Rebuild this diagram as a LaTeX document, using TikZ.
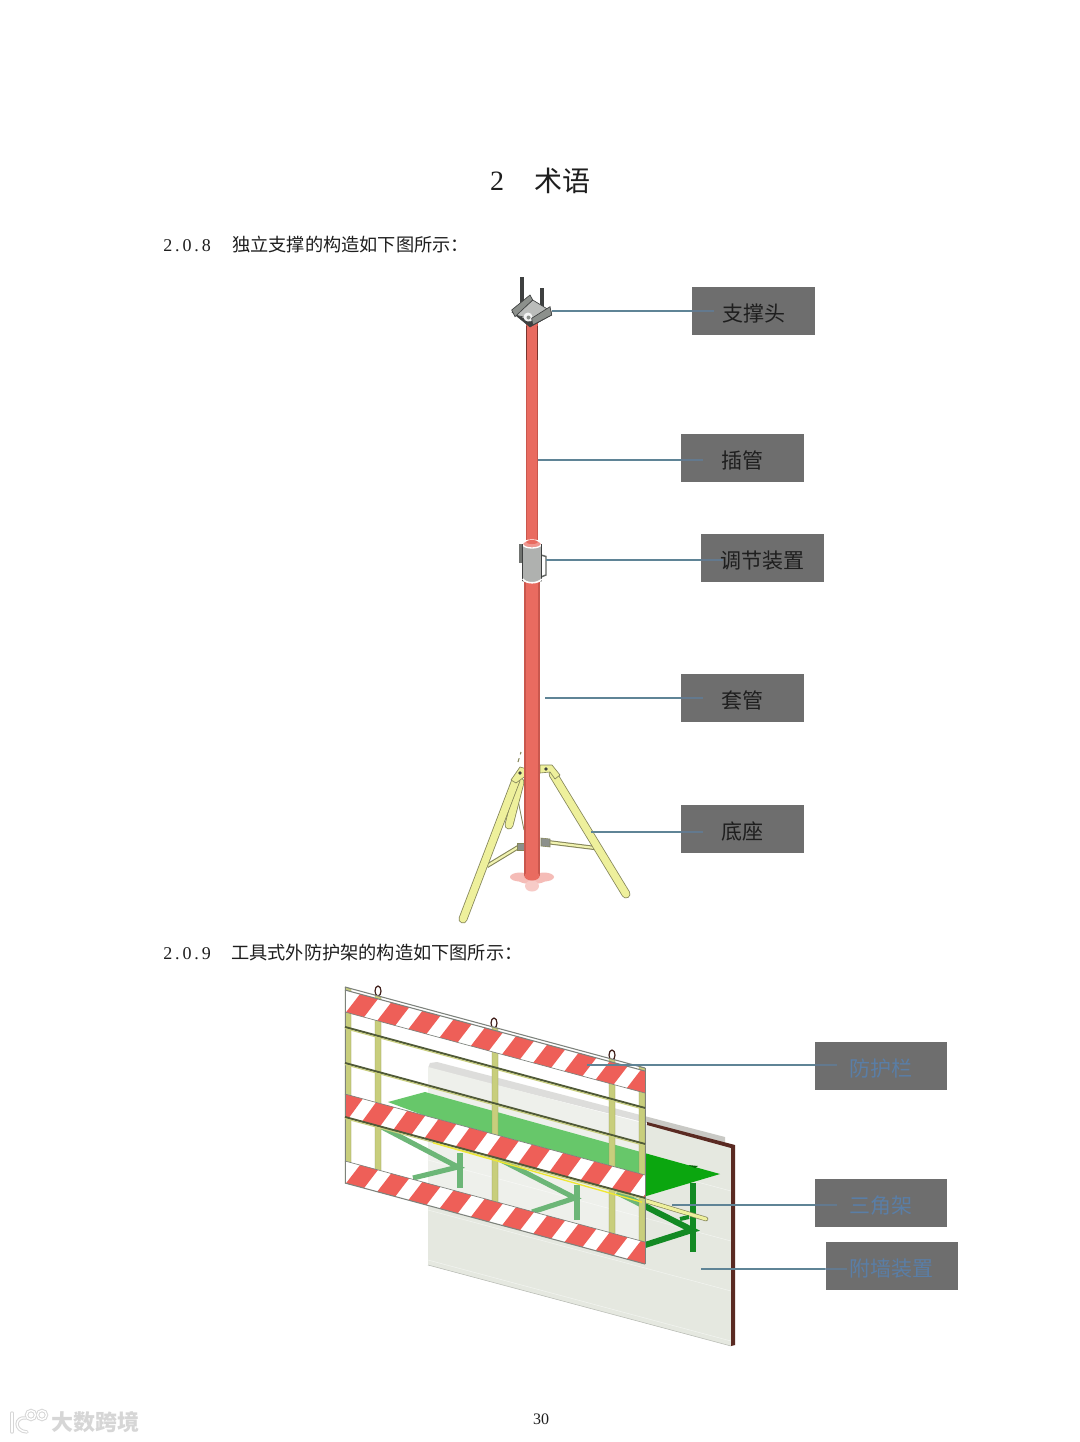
\documentclass[tikz,border=0pt]{standalone}
\usepackage{fontspec}
\setmainfont{Liberation Serif}
\newfontfamily\cjk{Noto Sans CJK SC}
\newfontfamily\numfont[LetterSpace=16]{Liberation Serif}
\definecolor{boxgray}{HTML}{6E6E6E}
\definecolor{leadc}{HTML}{5F8496}
\definecolor{leadin}{HTML}{5F7F9C}
\definecolor{bluetext}{HTML}{5A7EA6}
\definecolor{darktext}{HTML}{1E1E1E}
\definecolor{tubemid}{HTML}{E96B60}
\definecolor{tubedark}{HTML}{C9574D}
\definecolor{legyellow}{HTML}{EEF09C}
\definecolor{legedge}{HTML}{85865A}
\definecolor{steel}{HTML}{8C908C}
\definecolor{steeld}{HTML}{3E4040}
\definecolor{wallc}{HTML}{E5E8E0}
\definecolor{capc}{HTML}{C9C9C5}
\definecolor{brownc}{HTML}{5A2A22}
\definecolor{greenc}{HTML}{0BA60F}
\definecolor{greend}{HTML}{138A24}
\definecolor{stripered}{HTML}{EE5F58}
\definecolor{postc}{HTML}{C8CE7C}
\definecolor{railc}{HTML}{505A38}
\definecolor{edgec}{HTML}{7D827C}
\definecolor{wmc}{HTML}{D6D6D6}
\tikzset{
  labbox/.style={rectangle,fill=boxgray,inner sep=0pt,minimum width=92.25pt,minimum height=36pt,
    font=\cjk\fontsize{15.75}{16}\selectfont,text=darktext,text height=16pt,text depth=0pt},
  bluebox/.style={labbox,minimum width=99pt,text=bluetext},
  leadl/.style={draw=leadc,line width=0.8pt},
  leadi/.style={draw=leadin,line width=1pt,opacity=.7},
  heading/.style={font=\cjk\fontsize{13.65}{14}\selectfont,anchor=west,text=darktext,inner sep=0pt},
  number/.style={font=\numfont\fontsize{13.5}{14}\selectfont,anchor=west,text=darktext,inner sep=0pt},
  legout/.style={draw=legedge,line width=6.6pt,line cap=round},
  legin/.style={draw=legyellow,line width=5.4pt,line cap=round},
  strutout/.style={draw=legedge,line width=3.2pt},
  strutin/.style={draw=legyellow!80!white,line width=1.6pt},
  grbar/.style={draw=greend,line width=4.5pt},
  grthin/.style={draw=greend,line width=3.8pt},
  rail/.style={draw=railc,line width=1.5pt},
  railb/.style={draw=postc,line width=0.8pt},
  thin edge/.style={draw=edgec,line width=0.5pt},
  post/.style={fill=postc,draw=postc!70!black,line width=0.25pt},
  ringc/.style={draw=brownc!70!black,line width=0.9pt},
}
\begin{document}
\begin{tikzpicture}[x=0.75pt,y=-0.75pt]
\useasboundingbox (0,0) rectangle (1080,1442);
\fill[white] (0,0) rectangle (1080,1442);

% --- texts
\node[font=\fontsize{21}{22}\selectfont,text=darktext,inner sep=0pt] (t0) at (497,181) {2};
\node[font=\cjk\fontsize{21}{22}\selectfont,text=darktext,inner sep=0pt] (t1) at (562,181) {术语};
\node[number] (h1n) at (163,245.5) {2.0.8};
\node[heading] (h1) at (232,245) {独立支撑的构造如下图所示：};
\node[number] (h2n) at (163,953.5) {2.0.9};
\node[heading] (h2) at (231,953) {工具式外防护架的构造如下图所示：};
\node[font=\fontsize{12}{13}\selectfont,text=darktext,inner sep=0pt] (pg) at (541,1419) {30};

% --- tripod
\coordinate (rl1) at (553,774); \coordinate (rl2) at (626,894);
\coordinate (ll1) at (516,780); \coordinate (ll2) at (463,919);
\draw[strutout] (520,846) -- (487,866);
\draw[strutin]  (520,846) -- (487,866);
\draw[strutout] (547,842) -- (595,848);
\draw[strutin]  (547,842) -- (595,848);
\draw[legedge,line width=0.6pt] (516,790) -- (524,830);
\draw[legedge,line width=0.8pt,dashed] (518,762) -- (521,752);
\draw[legout] (rl1) -- (rl2); \draw[legin] (rl1) -- (rl2);
\draw[legout] (520,782) -- (509,825); \draw[legin] (520,782) -- (509,825);
\draw[legout] (ll1) -- (ll2); \draw[legin] (ll1) -- (ll2);
% hinges
\draw[legedge,fill=legyellow,line width=0.5pt] (540,765) -- (552,765) -- (560,775) -- (555,779) -- (550,772) -- (540,773) -- cycle;
\draw[legedge,fill=legyellow,line width=0.5pt] (527,769) -- (520,767) -- (511,780) -- (516,783) -- (527,775) -- cycle;
\fill[steeld] (546,769) circle (1.8);
\fill[steeld] (520,773) circle (1.8);
\draw[legedge,fill=steel,line width=0.4pt] (541,838) -- (550,839) -- (550,847) -- (541,846) -- cycle;
\draw[legedge,fill=steel,line width=0.4pt] (517,843) -- (525,843) -- (525,850) -- (517,850) -- cycle;
% base flange
\fill[tubemid!45!white] (532,879) ellipse (15 and 5);
\fill[tubemid!45!white] (520,877) ellipse (10 and 4.5);
\fill[tubemid!45!white] (544,877) ellipse (10 and 4.5);
\fill[tubemid!35!white] (532,886) ellipse (7 and 5.5);

% --- pole
\fill[tubemid] (526,322) rectangle (538.3,545);
\fill[tubedark] (526,322) rectangle (527.3,545);
\fill[tubedark] (537,322) rectangle (538.3,545);
\fill[tubemid] (524.3,580) rectangle (539.5,876);
\fill[tubedark] (524.3,580) rectangle (525.6,876);
\fill[tubedark] (538.2,580) rectangle (539.5,876);
\fill[tubemid] (532,876) ellipse (7.6 and 4.5);
\draw[tubedark!60!black,line width=0.5pt] (526.5,326) -- (526.5,360);
\draw[tubedark!60!black,line width=0.5pt] (537.8,326) -- (537.8,360);
% adjuster
\fill[steel!80!black] (519,544) rectangle (522.5,563);
\draw[steel!70!black,line width=1.1pt] (541,555) -- (546,556.5) -- (546,575) -- (541,577);
\fill[left color=steel!70!white,middle color=wallc,right color=steel!70!white] (522.7,544) rectangle (541.7,581);
\draw[white,fill=tubemid!70!white,line width=1pt] (532,544) ellipse (9.5 and 4);
\fill[tubemid] (532,542) ellipse (6 and 2);
\draw[steeld,line width=0.4pt] (522.7,544) -- (522.7,581);
\draw[steeld,line width=0.4pt] (541.7,544) -- (541.7,581);
\draw[white,line width=1.2pt] (522.7,579) .. controls (526,584) and (538,584) .. (541.7,579);

% --- support head
\draw[steeld,line width=2.8pt] (521.7,277) -- (521.7,304);
\draw[steeld,line width=2.8pt] (541.7,288) -- (541.7,310);
\draw[steeld,fill=steeld,line width=0.4pt] (511.7,312) -- (530,327) -- (551.7,315) -- (551,311) -- (530,322) -- cycle;
\draw[steeld,fill=steel!60!white,line width=0.5pt] (515,315) -- (532.7,300) -- (549,310) -- (531.7,319) -- cycle;
\draw[steeld,fill=steel,line width=0.5pt] (511.7,310) -- (530,295) -- (532.7,300) -- (515,316.7) -- cycle;
\fill[white!90!steel] (528,317) circle (4.5);
\fill[steel] (528.5,317.5) circle (2);
\draw[steeld,fill=steel,line width=0.5pt] (531.7,318.3) -- (550,306.7) -- (551.7,315) -- (532.7,325) -- cycle;

% --- wall
\fill[capc] (430,1063) -- (437,1062) -- (725,1137) -- (725,1143) -- (647,1123) -- (428,1068) -- cycle;
\fill[wallc] (428,1067) -- (731,1146) -- (731,1346) -- (428,1265) -- cycle;
\draw[wallc!80!black,line width=0.4pt] (428,1265) -- (731,1346);
\fill[brownc] (647,1122) -- (735,1145) -- (735,1345) -- (731,1346) -- (731,1148) -- (647,1125) -- cycle;
\foreach \v in {1110,1160,1210,1260}
  \draw[white!55!wallc,line width=0.35pt] (428,\v) -- (731,\v+81);

% --- brackets and platform
\draw[grthin] (460,1153) -- (460,1188);
\draw[grthin] (378,1125) -- (458,1167) -- (413,1178);
\draw[grthin] (577,1185) -- (577,1220);
\draw[grthin] (497,1158) -- (575,1198) -- (532,1212);
\draw[grbar] (693,1183) -- (693,1252);
\draw[grbar] (617,1192) -- (692,1230) -- (645,1245);
\fill[greenc] (388,1102) -- (425,1092) -- (720,1174) -- (643,1197) -- cycle;
\fill[greenc!60!black] (688,1165) -- (698,1166) -- (695,1168) -- cycle;
\draw[legedge,line width=3.4pt,line cap=round] (643,1200) -- (706,1219);
\draw[legyellow,line width=2.4pt,line cap=round] (643,1200) -- (706,1219);
\draw[greend,line width=3pt] (680,1219) -- (689,1217);

% --- lifting rings
\foreach \x/\y in {378/991,494/1023,612/1055}
  \draw[ringc] (\x,\y) ellipse (3 and 5);

% --- protective frame, sheared so that its rails run along local u
\begin{scope}[cm={1,-0.27,0,1,(345,987)}]
  \fill[white,opacity=.38] (0,0) rectangle (300,196);
  \foreach \u in {0,30,147,264,294} \fill[post] (\u,0) rectangle (\u+6,196);
  \fill[white] (0,3) rectangle (300,25);
  \fill[white] (0,107) rectangle (300,130);
  \fill[white] (0,174) rectangle (300,196);
  \begin{scope}
    \clip (0,3) rectangle (300,25);
    \foreach \k in {0,...,9}
      \fill[stripered] ({1+31.2*\k},25) -- ({19+31.2*\k},25) -- ({33+31.2*\k},3) -- ({15+31.2*\k},3) -- cycle;
  \end{scope}
  \begin{scope}
    \clip (0,107) rectangle (300,130);
    \foreach \k in {-1,...,9}
      \fill[stripered] ({17+31.2*\k},130) -- ({35+31.2*\k},130) -- ({49+31.2*\k},107) -- ({31+31.2*\k},107) -- cycle;
  \end{scope}
  \begin{scope}
    \clip (0,174) rectangle (300,196);
    \foreach \k in {0,...,9}
      \fill[stripered] ({1+31.2*\k},196) -- ({19+31.2*\k},196) -- ({33+31.2*\k},174) -- ({15+31.2*\k},174) -- cycle;
  \end{scope}
  \draw[thin edge,line width=0.8pt] (0,0) -- (300,0);
  \draw[thin edge,line width=0.8pt] (0,3) -- (300,3);
  \draw[thin edge] (0,25) -- (300,25);
  \draw[thin edge] (0,107) -- (300,107);
  \draw[thin edge] (0,174) -- (300,174);
  \draw[thin edge,line width=0.8pt] (0,196) -- (300,196);
  \draw[thin edge] (0,0) -- (0,196);
  \draw[thin edge] (300,0) -- (300,196);
  \foreach \v in {40,76,130} {
    \draw[rail] (0,\v) -- (300,\v);
    \draw[railb] (0,\v+1.6) -- (300,\v+1.6);
  }
  \draw[yellow!70!postc,line width=1pt] (88,132) -- (297,135);
\end{scope}

% --- label boxes
\node[labbox] (b1) at (753.5,311) {支撑头};
\node[labbox] (b2) at (742.5,458) {插管};
\node[labbox] (b3) at (762.5,558) {调节装置};
\node[labbox] (b4) at (742.5,697.5) {套管};
\node[labbox] (b5) at (742.5,829) {底座};
\node[bluebox] (b6) at (881,1066) {防护栏};
\node[bluebox] (b7) at (881,1202.5) {三角架};
\node[bluebox] (b8) at (891.5,1266) {附墙装置};

% --- free ends of the connectors
\coordinate (c1) at (552,311);
\coordinate (c2) at (538,460);
\coordinate (c3) at (546,560);
\coordinate (c4) at (545,698);
\coordinate (c5) at (591,832);
\coordinate (c6) at (587,1065);
\coordinate (c7) at (672,1205);
\coordinate (c8) at (701,1269);
\foreach \c/\b in {c1/b1,c2/b2,c3/b3,c4/b4,c5/b5,c6/b6,c7/b7,c8/b8} {
  \draw[leadl] (\c) -- (\c -| \b.west);
  \draw[leadi] (\c -| \b.west) -- ++(22,0);
}

% --- watermark
\node[font=\cjk\fontsize{16.5}{17}\selectfont\bfseries,text=wmc,inner sep=0pt] (wm) at (95,1422) {大数跨境};
\foreach \w/\cl in {3.4/wmc,1.4/white} {
  \draw[\cl,line width=\w*0.75pt,line cap=round] (12,1413) -- (12,1432);
  \draw[\cl,line width=\w*0.75pt,line cap=round] (26,1418) .. controls (15,1416) and (13,1431) .. (27,1432);
  \draw[\cl,line width=\w*0.75pt] (31,1415) circle (4.5);
  \draw[\cl,line width=\w*0.75pt] (42,1415) circle (4.5);
}
\end{tikzpicture}
\end{document}
